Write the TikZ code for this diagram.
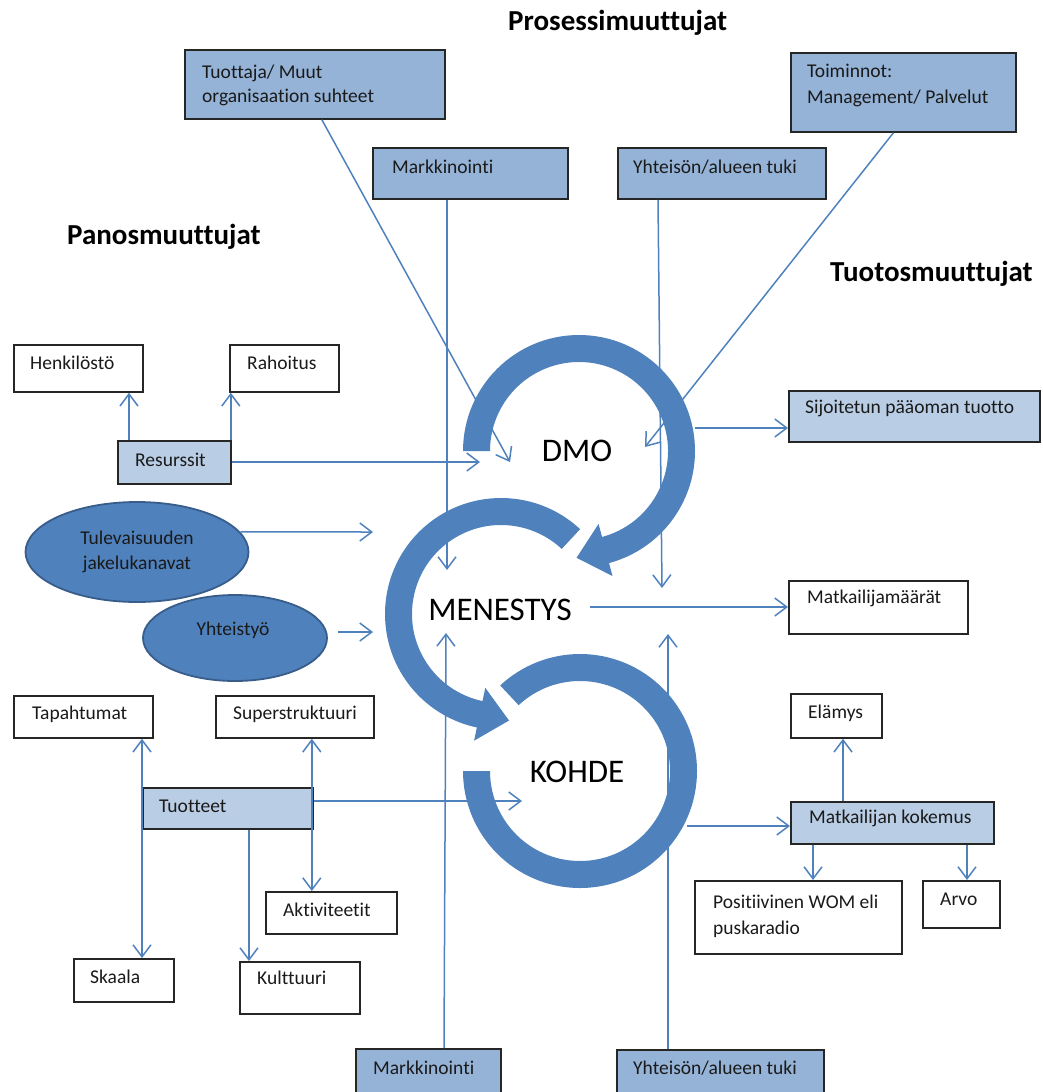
\documentclass[tikz,border=0pt]{standalone}
\usepackage{fontspec}
\setmainfont{Carlito}[Ligatures=NoCommon]
\usetikzlibrary{arrows.meta,calc,shapes.geometric}
\definecolor{ringblue}{HTML}{4F81BD}
\definecolor{procfill}{HTML}{95B3D7}
\definecolor{lightfill}{HTML}{B9CDE5}
\definecolor{ellborder}{HTML}{385D8A}
\definecolor{txtcol}{HTML}{1A1A1A}
\begin{document}
\begin{tikzpicture}[x=1pt,y=1pt,
  boxbase/.style={draw=black!85, line width=1.8pt, anchor=north west, inner sep=0pt},
  procbox/.style={boxbase, fill=procfill},
  lightbox/.style={boxbase, fill=lightfill},
  whitebox/.style={boxbase, fill=white},
  ellnode/.style={ellipse, draw=ellborder, line width=1.8pt, fill=ringblue, inner sep=0pt,
    font=\fontsize{19.5}{25}\selectfont, text=txtcol, align=center},
  txt/.style={font=\fontsize{19.5}{23.5}\selectfont, inner sep=0pt, anchor=base west, align=left, text=txtcol},
  head/.style={font=\bfseries\fontsize{29}{34}\selectfont, inner sep=0pt, anchor=base west, text=black},
  big/.style={font=\fontsize{33}{40}\selectfont, inner sep=0pt, text=black},
  ring/.style={fill=ringblue},
  conn/.style={draw=ringblue, line width=1.5pt},
  arr/.style={conn, -{Straight Barb[length=12pt,width=18pt]}},
  darr/.style={conn, {Straight Barb[length=12pt,width=18pt]}-{Straight Barb[length=12pt,width=18pt]}}
]
\useasboundingbox (0,0) rectangle (1043,-1092);
\clip (0,0) rectangle (1043,-1092);

% ---- circular arrows ----
\coordinate (cD) at (579,-451);
\coordinate (cM) at (501,-614);
\coordinate (cK) at (580,-771);
\fill[ring] ($(cD)+(180:116)$) arc[start angle=180,end angle=-75,radius=116]
  -- ($(cD)+(-75:129.5)$) -- ($(cD)+(-75:102.5)+(-165:30)$) -- ($(cD)+(-75:75.5)$)
  -- ($(cD)+(-75:89)$) arc[start angle=-75,end angle=180,radius=89] -- cycle;
\fill[ring] ($(cM)+(47:116)$) arc[start angle=47,end angle=258,radius=116]
  -- ($(cM)+(258:129.5)$) -- ($(cM)+(258:102.5)+(-12:30)$) -- ($(cM)+(258:75.5)$)
  -- ($(cM)+(258:89)$) arc[start angle=258,end angle=47,radius=89] -- cycle;
\fill[ring] ($(cK)+(180:117)$) arc[start angle=180,end angle=493,radius=117]
  -- ($(cK)+(133:90)$) arc[start angle=493,end angle=180,radius=90] -- cycle;

% ---- headings ----
\node[head] (hproc) at (508,-30) {Prosessimuuttujat};
\node[head] (hpanos) at (67,-244) {Panosmuuttujat};
\node[head] (htuot) at (830,-281) {Tuotosmuuttujat};

% ---- process boxes ----
\node[procbox, minimum width=260, minimum height=69] (tuot) at (184,-49) {};
\node[txt] (tuot-t) at (202,-102) {Tuottaja/ Muut\\organisaation suhteet};
\node[procbox, minimum width=195, minimum height=51] (markTop) at (372,-147) {};
\node[txt] (markTop-t) at (392,-173) {Markkinointi};
\node[procbox, minimum width=208, minimum height=51] (yhtTop) at (617,-147) {};
\node[txt] (yhtTop-t) at (633,-173) {Yhteisön/alueen tuki};
\node[procbox, minimum width=225, minimum height=79] (toim) at (790,-52) {};
\node[txt, font=\fontsize{19.5}{26}\selectfont] (toim-t) at (807,-103) {Toiminnot:\\Management/ Palvelut};
\node[procbox, minimum width=145, minimum height=60] (markBot) at (355,-1048) {};
\node[txt] (markBot-t) at (373,-1074) {Markkinointi};
\node[procbox, minimum width=207, minimum height=60] (yhtBot) at (616,-1049) {};
\node[txt] (yhtBot-t) at (633,-1074) {Yhteisön/alueen tuki};

% ---- input side ----
\node[whitebox, minimum width=129, minimum height=47] (henk) at (13,-344) {};
\node[txt] (henk-t) at (30,-369) {Henkilöstö};
\node[whitebox, minimum width=109, minimum height=47] (rah) at (229,-344) {};
\node[txt] (rah-t) at (247,-369) {Rahoitus};
\node[lightbox, minimum width=113, minimum height=43] (res) at (117,-440) {};
\node[txt] (res-t) at (135,-466) {Resurssit};
\node[ellnode, minimum width=223, minimum height=100] (tul) at (137,-552) {Tulevaisuuden\\jakelukanavat};
\node[ellnode, minimum width=184, minimum height=86] (yht) at (235,-638) {};
\node[txt, anchor=base] (yht-t) at (233,-635) {Yhteistyö};
\node[whitebox, minimum width=139, minimum height=42] (tap) at (13,-695) {};
\node[txt] (tap-t) at (32,-719) {Tapahtumat};
\node[whitebox, minimum width=158, minimum height=42] (sup) at (215,-695) {};
\node[txt] (sup-t) at (233,-719) {Superstruktuuri};
\node[lightbox, minimum width=170, minimum height=41] (tuo) at (142,-787) {};
\node[txt] (tuo-t) at (159,-812) {Tuotteet};
\node[whitebox, minimum width=131, minimum height=42] (akt) at (265,-891) {};
\node[txt] (akt-t) at (283,-916) {Aktiviteetit};
\node[whitebox, minimum width=100, minimum height=43] (ska) at (73,-958) {};
\node[txt] (ska-t) at (90,-983) {Skaala};
\node[whitebox, minimum width=120, minimum height=52] (kul) at (239,-961) {};
\node[txt] (kul-t) at (257,-984) {Kulttuuri};

% ---- output side ----
\node[lightbox, minimum width=251, minimum height=51] (sij) at (788,-390) {};
\node[txt] (sij-t) at (805,-413) {Sijoitetun pääoman tuotto};
\node[whitebox, minimum width=179, minimum height=53] (mm) at (788,-580) {};
\node[txt] (mm-t) at (807,-603) {Matkailijamäärät};
\node[whitebox, minimum width=91, minimum height=44] (ela) at (790,-693) {};
\node[txt] (ela-t) at (808,-718) {Elämys};
\node[lightbox, minimum width=203, minimum height=42] (mk) at (790,-801) {};
\node[txt] (mk-t) at (809,-823) {Matkailijan kokemus};
\node[whitebox, minimum width=207, minimum height=73] (pos) at (694,-880) {};
\node[txt, font=\fontsize{19.5}{26}\selectfont] (pos-t) at (713,-934) {Positiivinen WOM eli\\puskaradio};
\node[whitebox, minimum width=77, minimum height=47] (arvo) at (922,-880) {};
\node[txt] (arvo-t) at (940,-905) {Arvo};

% ---- connector end points ----
\coordinate (pTuot) at (510,-462);
\coordinate (pMarkTop) at (447,-570);
\coordinate (pYhtTop) at (662,-588);
\coordinate (pToim) at (645,-447);
\coordinate (pRes) at (480,-462);
\coordinate (pTul) at (373,-532);
\coordinate (sYht) at (338,-632);
\coordinate (pYht) at (373,-632);
\coordinate (pTuo) at (522,-801);
\coordinate (sSij) at (695,-428);
\coordinate (sMm) at (590,-607);
\coordinate (sMk) at (687,-826);
\coordinate (pMarkBot) at (446,-633);
\coordinate (pYhtBot) at (668,-634);
\coordinate (sTuot) at ($(tuot.south)+(7,0)$);
\coordinate (sYhtTop) at ($(yhtTop.south west)+(41,0)$);
\coordinate (sToim) at ($(toim.south)+(-10,0)$);
\coordinate (rH) at ($(res.north west)+(12,0)$);
\coordinate (rR) at ($(res.north east)+(-1,0)$);
\coordinate (tS) at ($(tuo.north east)+(-2,0)$);
\coordinate (tK) at ($(kul.north west)+(10,0)$);
\coordinate (mE) at ($(mk.north west)+(53,0)$);
\coordinate (mP) at ($(mk.south west)+(23,0)$);
\coordinate (mA) at ($(mk.south west)+(177,0)$);
\coordinate (sMarkBot) at ($(markBot.north west)+(89,0)$);
\coordinate (sYhtBot) at ($(yhtBot.north west)+(52,0)$);

% ---- connectors ----
\draw[arr] (sTuot) -- (pTuot);
\draw[arr] (markTop.south -| pMarkTop) -- (pMarkTop);
\draw[arr] (sYhtTop) -- (pYhtTop);
\draw[arr] (sToim) -- (pToim);
\draw[arr] (res.east |- pRes) -- (pRes);
\draw[arr] (rH) -- (rH |- henk.south);
\draw[arr] (rR) -- (rR |- rah.south);
\draw[arr] (tul.11) -- (pTul);
\draw[arr] (sYht) -- (pYht);
\draw[darr] (tuo.north west |- tap.south) -- (tuo.north west |- ska.north);
\draw[darr] (tS |- sup.south) -- (tS |- akt.north);
\draw[arr] (tK |- tuo.south) -- (tK);
\draw[arr] (tuo.east |- pTuo) -- (pTuo);
\draw[arr] (sSij) -- (sij.west |- sSij);
\draw[arr] (sMm) -- (mm.west |- sMm);
\draw[arr] (sMk) -- (mk.west |- sMk);
\draw[arr] (mE) -- (mE |- ela.south);
\draw[arr] (mP) -- (mP |- pos.north);
\draw[arr] (mA) -- (mA |- arvo.north);
\draw[arr] (sMarkBot) -- (pMarkBot);
\draw[arr] (sYhtBot) -- (pYhtBot);

% ---- central labels ----
\node[big] (dmo) at (577,-451) {DMO};
\node[big] (men) at (500,-610) {MENESTYS};
\node[big] (koh) at (577,-772) {KOHDE};
\end{tikzpicture}
\end{document}
